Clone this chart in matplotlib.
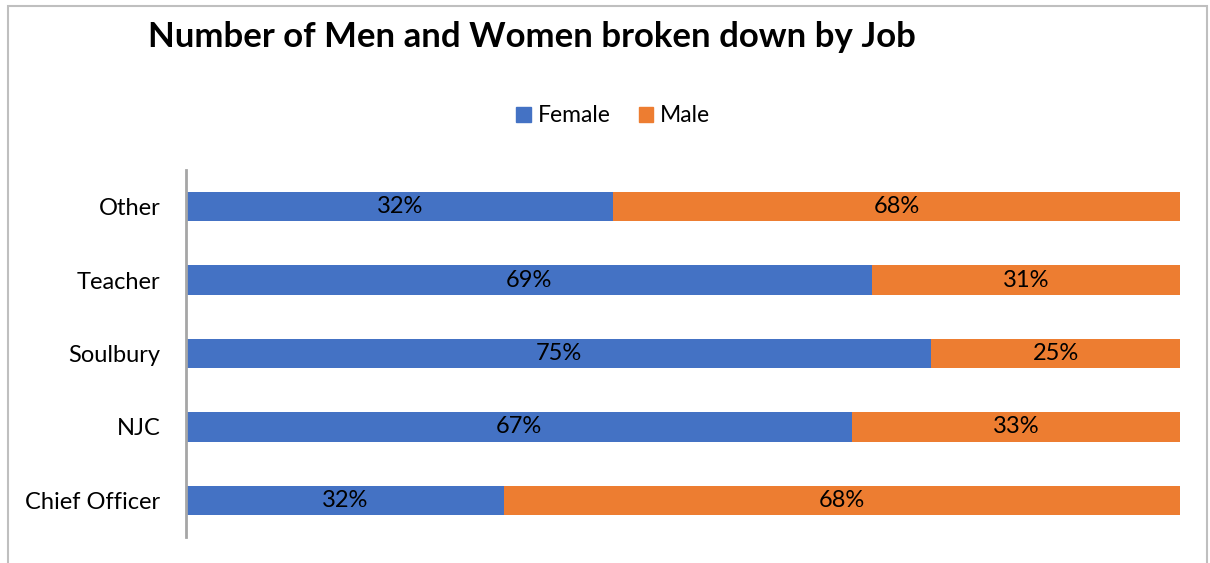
import numpy as np
import matplotlib.pyplot as plt
from matplotlib.patches import Rectangle, Patch

# data (bottom to top, as drawn)
jobs = ["Chief Officer", "NJC", "Soulbury", "Teacher", "Other"]
female_share = [32, 67, 75, 69, 43]
male_share = [68, 33, 25, 31, 57]
female_labels = ["32%", "67%", "75%", "69%", "32%"]
male_labels = ["68%", "33%", "25%", "31%", "68%"]

blue = "#4472C4"
orange = "#ED7D31"
font = ["Lato", "DejaVu Sans"]
plt.rcParams["font.family"] = font

fig = plt.figure(figsize=(12.1, 5.63), dpi=100)
ax = fig.add_axes([0.1537, 0.0462, 0.8215, 0.6518])

y = np.arange(len(jobs))
ax.barh(y, female_share, height=0.4, color=blue, label="Female")
ax.barh(y, male_share, left=female_share, height=0.4, color=orange, label="Male")

for i in range(len(jobs)):
    ax.text(female_share[i] / 2, y[i], female_labels[i], ha="center", va="center",
            fontsize=17, color="black")
    ax.text(female_share[i] + male_share[i] / 2, y[i], male_labels[i], ha="center",
            va="center", fontsize=17, color="black")

ax.set_xlim(0, 100)
ax.set_ylim(-0.5, len(jobs) - 0.5)
ax.set_yticks(y)
ax.set_yticklabels(jobs, fontsize=17)
ax.set_xticks([])
ax.tick_params(axis="y", length=0, pad=18.5)
for s in ["top", "right", "bottom"]:
    ax.spines[s].set_visible(False)
ax.spines["left"].set_color("#A6A6A6")
ax.spines["left"].set_linewidth(2)

fig.text(0.122, 0.935, "Number of Men and Women broken down by Job", fontsize=25,
         fontweight="bold", ha="left", va="center")

handles = [Patch(color=blue, label="Female"), Patch(color=orange, label="Male")]
fig.legend(handles=handles, loc="center", bbox_to_anchor=(0.507, 0.794), ncol=2,
           frameon=False, fontsize=16.5, handlelength=0.65, handleheight=0.65,
           handletextpad=0.3, columnspacing=1.2)

# outer chart frame
fig.patches.append(Rectangle((8 / 1210, -0.05), 1199 / 1210, 1.05 - 6 / 563,
                             transform=fig.transFigure, fill=False,
                             edgecolor="#BFBFBF", linewidth=1.5))

plt.savefig("out.png", dpi=100)
